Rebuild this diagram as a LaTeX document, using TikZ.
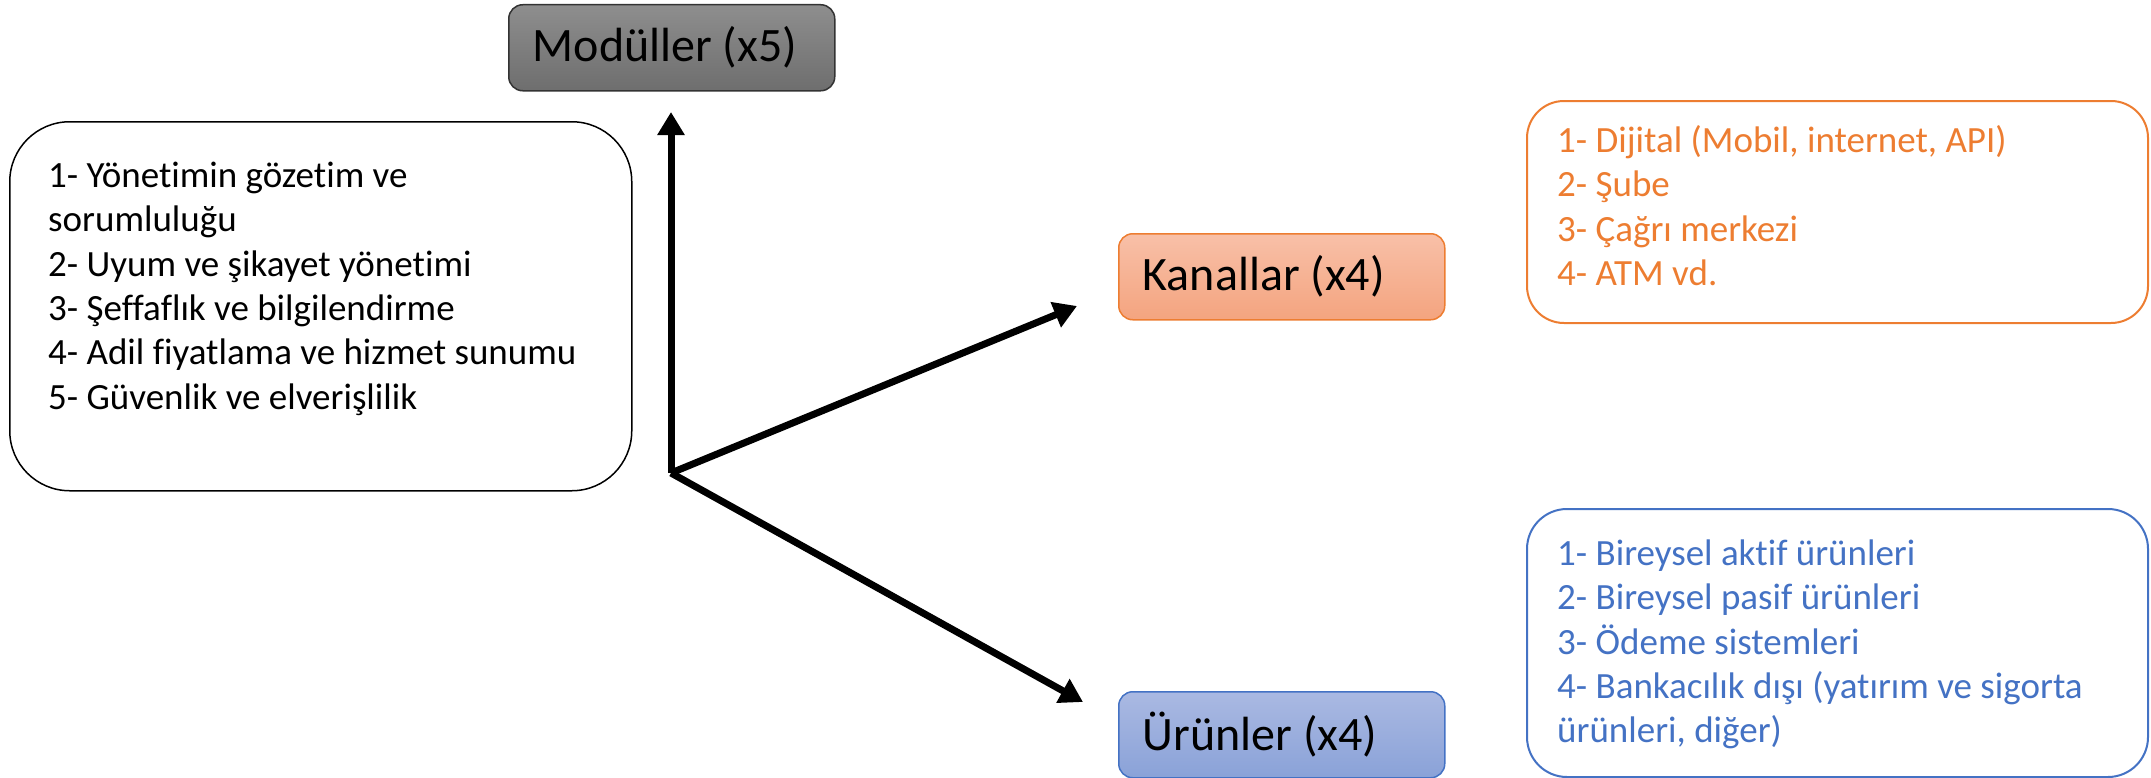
\documentclass[tikz,border=0pt]{standalone}
\usepackage{fontspec}
\setmainfont{Carlito}[Ligatures={NoCommon}]
\usetikzlibrary{arrows.meta,shadings}
\definecolor{orng}{HTML}{ED7D31}
\definecolor{blu}{HTML}{4472C4}
\definecolor{modtop}{HTML}{8E8E8E}
\definecolor{modbot}{HTML}{6E6E6E}
\definecolor{kantop}{HTML}{F8C0A8}
\definecolor{kanbot}{HTML}{F4A47F}
\definecolor{urtop}{HTML}{AAB9E2}
\definecolor{urbot}{HTML}{8AA2D8}
\begin{document}
\begin{tikzpicture}[x=1bp,y=-1bp,
  labelbox/.style={rounded corners=14bp, line width=1.5bp, inner xsep=24bp, inner ysep=0pt,
    text width=278bp, align=flush left, minimum height=86bp, anchor=north west,
    font=\fontsize{48bp}{58bp}\selectfont},
  listframe/.style={draw, fill=white, line width=2bp, anchor=north west, inner sep=0pt},
  listtext/.style={anchor=north west, inner sep=0pt, align=flush left,
    font=\fontsize{37bp}{44.4bp}\selectfont},
  arr/.style={line width=7bp, -{Triangle[length=23bp,width=26bp]}}]
\useasboundingbox (0,0) rectangle (2151,778);

% list frames
\node[listframe, draw=black, line width=1.5bp, rounded corners=60bp,
  minimum width=622bp, minimum height=369bp] (lbox) at (9,121) {};
\node[listframe, draw=orng, rounded corners=37bp,
  minimum width=621bp, minimum height=222bp] (kbox) at (1526,100) {};
\node[listframe, draw=blu, rounded corners=40bp,
  minimum width=621bp, minimum height=268bp] (ubox) at (1526,508) {};

% list texts
\node[listtext] (ltxt) at (48,157) {\rule{0pt}{30bp}1- Yönetimin gözetim ve\\ sorumluluğu\\ 2- Uyum ve şikayet yönetimi\\ 3- Şeffaflık ve bilgilendirme\\ 4- Adil fiyatlama ve hizmet sunumu\\ 5- Güvenlik ve elverişlilik};
\node[listtext, text=orng] (ktxt) at (1557,122) {\rule{0pt}{30bp}1- Dijital (Mobil, internet, API)\\ 2- Şube\\ 3- Çağrı merkezi\\ 4- ATM vd.};
\node[listtext, text=blu] (utxt) at (1557,535) {\rule{0pt}{30bp}1- Bireysel aktif ürünleri\\ 2- Bireysel pasif ürünleri\\ 3- Ödeme sistemleri\\ 4- Bankacılık dışı (yatırım ve sigorta\\ ürünleri, diğer)};

% label boxes
\node[labelbox, draw=black!80, top color=modtop, bottom color=modbot] (mod) at (508,4) {Modüller (x5)};
\node[labelbox, draw=orng, top color=kantop, bottom color=kanbot] (kan) at (1118,233) {Kanallar (x4)};
\node[labelbox, draw=blu, top color=urtop, bottom color=urbot] (uru) at (1118,691) {Ürünler (x4)};

% arrows
\coordinate (o) at (671,473);
\coordinate (tm) at (671,112);
\coordinate (tk) at (1077,306);
\coordinate (tu) at (1083,702);
\draw[arr] (o) -- (tm);
\draw[arr] (o) -- (tk);
\draw[arr] (o) -- (tu);
\end{tikzpicture}
\end{document}
